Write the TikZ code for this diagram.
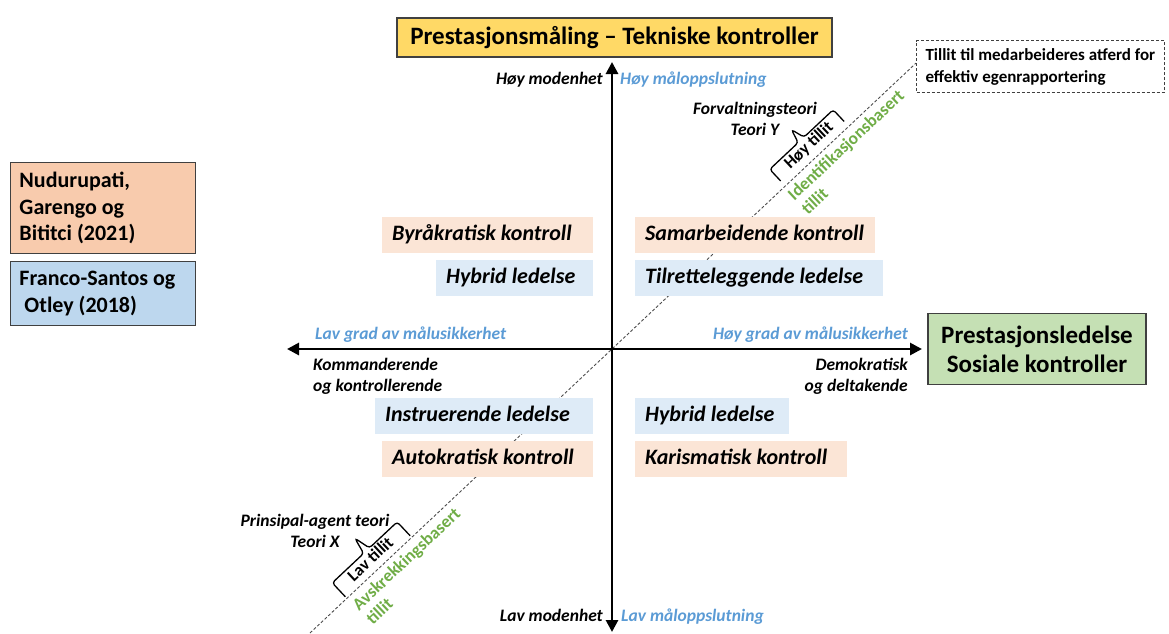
\documentclass[tikz,border=0pt]{standalone}
\usepackage{fontspec}
\setmainfont{Carlito}
\usetikzlibrary{arrows.meta}
\definecolor{titleyellow}{HTML}{FFD966}
\definecolor{socgreen}{HTML}{C5E0B4}
\definecolor{refpeach}{HTML}{F8CBAD}
\definecolor{refblue}{HTML}{BDD7EE}
\definecolor{ctrlpeach}{HTML}{FBE5D6}
\definecolor{leadblue}{HTML}{DEEBF7}
\definecolor{axisblue}{HTML}{5B9BD5}
\definecolor{trustgreen}{HTML}{70AD47}
\definecolor{edgegray}{HTML}{404040}
\begin{document}
\begin{tikzpicture}[x=1pt,y=-1pt,
  lbl/.style={inner sep=0pt, text height=12.5pt, text depth=4pt,
    font=\bfseries\itshape\fontsize{17.5}{21}\selectfont},
  bluelbl/.style={lbl, text=axisblue},
  twolines/.style={inner sep=0pt, font=\bfseries\itshape\fontsize{17.5}{21}\selectfont},
  qbox/.style={anchor=north west, inner xsep=10pt, inner ysep=0pt,
    minimum height=36pt, text height=16pt, text depth=5pt,
    font=\bfseries\itshape\fontsize{22}{26}\selectfont},
  ctrl/.style={qbox, fill=ctrlpeach},
  lead/.style={qbox, fill=leadblue},
  refbox/.style={anchor=north west, draw=edgegray, line width=1pt,
    inner xsep=9pt, inner ysep=0pt, align=flush left,
    font=\bfseries\fontsize{22}{26.5}\selectfont},
  axis/.style={line width=2.8pt,
    arrows={Triangle[length=12pt,width=12pt]-Triangle[length=12pt,width=12pt]}},
  trustline/.style={draw=black!70, line width=0.9pt, dash pattern=on 3pt off 2pt},
  bracket/.style={line width=1.3pt, rounded corners=3pt},
  tilt/.style={rotate=43.2, inner sep=0pt, text height=12pt, text depth=3.5pt,
    font=\bfseries\fontsize{17}{21}\selectfont},
  greentilt/.style={tilt, anchor=base west, text=trustgreen,
    font=\bfseries\fontsize{17.5}{21}\selectfont}
]
\useasboundingbox (0,0) rectangle (1169,633);
\clip (0,0) rectangle (1169,633);

% trust diagonal (drawn first so the boxes cover it)
\node[anchor=north west, draw=edgegray, line width=1pt, dash pattern=on 3pt off 2pt,
  minimum height=52pt, inner xsep=9pt, inner ysep=0pt, align=left,
  font=\bfseries\fontsize{17}{22}\selectfont]
  (tbox) at (916,40) {Tillit til medarbeideres atferd for\\effektiv egenrapportering};
\coordinate (dl) at (310,633);
\coordinate (dtop) at (916,63.1);
\draw[trustline] (dl) -- (dtop);

% axes
\coordinate (vt) at (612,62);
\coordinate (vb) at (612,632);
\coordinate (hl) at (287,349);
\coordinate (hr) at (922,349);
\draw[axis] (vb) -- (vt);
\draw[axis] (hl) -- (hr);

% headings
\node[draw=edgegray, line width=1.2pt, fill=titleyellow, minimum width=435pt,
  minimum height=39pt, inner sep=0pt, font=\bfseries\fontsize{25}{29}\selectfont]
  (title) at (614.5,37.5) {Prestasjonsmåling – Tekniske kontroller};
\node[draw=edgegray, line width=1.2pt, fill=socgreen, minimum width=218pt,
  minimum height=71pt, inner sep=0pt, align=center,
  font=\bfseries\fontsize{25}{29}\selectfont]
  (soc) at (1037,349) {Prestasjonsledelse\\Sosiale kontroller};

% sources
\node[refbox, fill=refpeach, text width=167pt, minimum height=91pt]
  (nud) at (10,162) {Nudurupati,\\Garengo og\\Bititci (2021)};
\node[refbox, fill=refblue, text width=167pt, minimum height=64pt]
  (fra) at (10,261) {Franco-Santos og\\\hspace*{5pt}Otley (2018)};

% axis labels
\node[lbl, anchor=east] (hmod) at (603,80) {Høy modenhet};
\node[bluelbl, anchor=west] (hmal) at (620,80) {Høy måloppslutning};
\node[lbl, anchor=east] (lmod) at (603,617) {Lav modenhet};
\node[bluelbl, anchor=west] (lmal) at (621,617) {Lav måloppslutning};
\node[bluelbl, anchor=west] (lgrad) at (315,335) {Lav grad av målusikkerhet};
\node[bluelbl, anchor=east] (hgrad) at (908,335) {Høy grad av målusikkerhet};
\node[twolines, anchor=north west, align=left] (kom) at (313,358)
  {Kommanderende\\og kontrollerende};
\node[twolines, anchor=north east, align=right] (dem) at (908,358)
  {Demokratisk\\og deltakende};

% quadrant contents
\node[ctrl] (byr) at (382,217) {\makebox[191pt][l]{Byråkratisk kontroll}};
\node[lead] (hyb1) at (436,260) {\makebox[137pt][l]{Hybrid ledelse}};
\node[ctrl] (sam) at (635,217) {\makebox[220pt][l]{Samarbeidende kontroll}};
\node[lead] (til) at (635,260) {\makebox[228pt][l]{Tilretteleggende ledelse}};
\node[lead] (ins) at (375,398) {\makebox[198pt][l]{Instruerende ledelse}};
\node[ctrl] (aut) at (382,441) {\makebox[191pt][l]{Autokratisk kontroll}};
\node[lead] (hyb2) at (635,398) {\makebox[134pt][l]{Hybrid ledelse}};
\node[ctrl] (kar) at (635,441) {\makebox[192pt][l]{Karismatisk kontroll}};

% theories
\node[twolines, anchor=north, align=center] (ty) at (755,102)
  {Forvaltningsteori\\Teori Y};
\node[twolines, anchor=north, align=center] (tx) at (315,514)
  {Prinsipal-agent teori\\Teori X};

% brackets and trust labels, laid out along the diagonal:
% first coordinate runs along the line, minus the second is the offset to its upper left
\begin{scope}[shift={(612,349)}, rotate=43.2]
  \draw[bracket] (238,-7) -- (238,-23) -- (277,-23) -- (281,-37)
    -- (285,-23) -- (325,-23) -- (325,-7);
  \node[tilt] (hoy) at (283,-13) {Høy tillit};
  \node[greentilt] (idt1) at (234,17) {Identifikasjonsbasert};
  \node[greentilt] (idt2) at (234,37) {tillit};

  \draw[bracket] (-364,-2) -- (-364,-21) -- (-321,-21) -- (-317,-38)
    -- (-313,-21) -- (-275,-21) -- (-275,-2);
  \node[tilt] (lav) at (-320,-11) {Lav tillit};
  \node[greentilt] (avs1) at (-364,18) {Avskrekkingsbasert};
  \node[greentilt] (avs2) at (-364,38) {tillit};
\end{scope}
\end{tikzpicture}
\end{document}
